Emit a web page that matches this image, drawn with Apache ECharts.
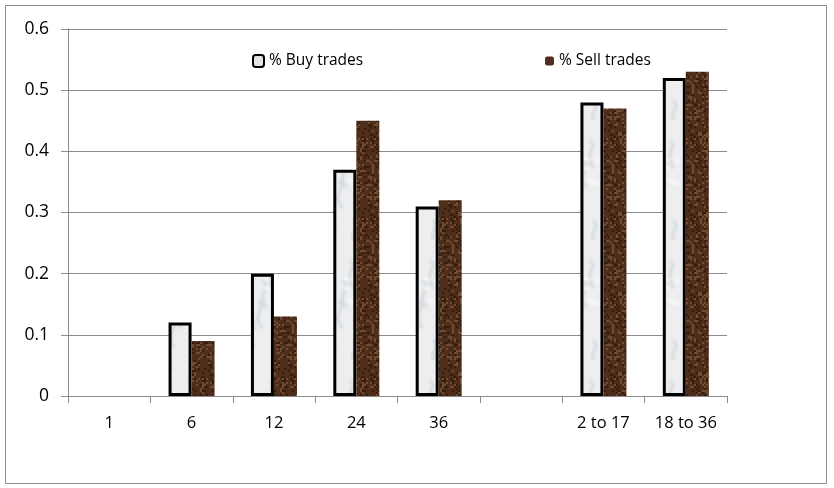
<!DOCTYPE html>
<html lang="en">
<head>
	<meta charset="UTF-8">
	<title>Buy and sell trades</title>
	<script src="https://cdn.jsdelivr.net/npm/echarts@6/dist/echarts.min.js"></script>
	<style>
		html, body { margin: 0; padding: 0; background: #fff; }
	</style>
</head>
<body>
	<div id="main" style="width:834px;height:488px;"></div>
	<script type="text/javascript">
        var categories = ['1', '6', '12', '24', '36', '', '2 to 17', '18 to 36'];
        var buyTrades = [null, 0.12, 0.2, 0.37, 0.31, null, 0.48, 0.52];
        var sellTrades = [null, 0.09, 0.13, 0.45, 0.32, null, 0.47, 0.53];
        var yTicks = [0, 0.1, 0.2, 0.3, 0.4, 0.5, 0.6];

        // small deterministic hash for texture speckle
        function hash(x, y) {
            var h = Math.sin(x * 12.9898 + y * 78.233) * 43758.5453;
            return h - Math.floor(h);
        }

        // marble-like texture for buy bars
        function marble() {
            var c = document.createElement('canvas');
            c.width = 40; c.height = 120;
            var g = c.getContext('2d');
            g.fillStyle = '#eceef0';
            g.fillRect(0, 0, 40, 120);
            g.filter = 'blur(1.5px)';
            g.strokeStyle = 'rgba(160,165,170,0.55)';
            g.lineWidth = 1.5;
            for (var i = 0; i < 6; i++) {
                var x0 = hash(i, 1) * 40, y0 = i * 20;
                g.beginPath();
                g.moveTo(x0, y0);
                g.bezierCurveTo(x0 + 10, y0 + 8, x0 - 8, y0 + 14, x0 + 4, y0 + 28);
                g.stroke();
            }
            g.fillStyle = 'rgba(255,255,255,0.7)';
            for (var j = 0; j < 10; j++) {
                g.fillRect(hash(j, 5) * 36, hash(j, 9) * 116, 5, 4);
            }
            g.filter = 'none';
            return c;
        }

        // brown mottled texture for sell bars
        function bark() {
            var c = document.createElement('canvas');
            c.width = 40; c.height = 80;
            var g = c.getContext('2d');
            g.fillStyle = '#4f2d1b';
            g.fillRect(0, 0, 40, 80);
            for (var y = 0; y < 80; y += 2) {
                for (var x = 0; x < 40; x += 2) {
                    var v = hash(x + 3, y + 7);
                    if (v > 0.82) {
                        g.fillStyle = 'rgba(140,95,60,0.6)';
                        g.fillRect(x, y, 2, 2);
                    } else if (v < 0.18) {
                        g.fillStyle = 'rgba(35,18,8,0.6)';
                        g.fillRect(x, y, 2, 2);
                    }
                }
            }
            return c;
        }

        var myChart = echarts.init(document.getElementById('main'));
        var font = 'Open Sans';

        myChart.setOption({
            animation: false,
            textStyle: { fontFamily: font },
            graphic: [{
                type: 'rect',
                shape: { x: 5.5, y: 5.5, width: 821, height: 478 },
                style: { fill: 'none', stroke: '#8c8c8c', lineWidth: 1 },
                silent: true
            }],
            grid: { left: 68, right: 107, top: 29, bottom: 92 },
            legend: [{
                left: 247, top: 48,
                itemWidth: 11, itemHeight: 12, itemGap: 4,
                textStyle: { fontSize: 15.5, color: '#000', fontFamily: font },
                data: [{ name: '% Buy trades', itemStyle: { color: '#e4e4e4', borderColor: '#000', borderWidth: 2 } }]
            }, {
                left: 540, top: 48,
                itemWidth: 9, itemHeight: 9, itemGap: 5,
                textStyle: { fontSize: 15.5, color: '#000', fontFamily: font },
                data: [{ name: '% Sell trades', itemStyle: { color: '#4e2e1c' } }]
            }],
            xAxis: {
                type: 'category',
                data: categories,
                axisLine: { lineStyle: { color: '#8c8c8c' } },
                axisTick: { show: true, length: 7, interval: 0, lineStyle: { color: '#8c8c8c' } },
                axisLabel: { interval: 0, margin: 19, fontSize: 16.5, color: '#000', fontFamily: font }
            },
            yAxis: {
                type: 'value',
                min: yTicks[0],
                max: yTicks[yTicks.length - 1],
                interval: 0.1,
                axisLine: { show: true, lineStyle: { color: '#8c8c8c' } },
                axisTick: { show: true, length: 7, lineStyle: { color: '#8c8c8c' } },
                splitLine: { lineStyle: { color: '#8c8c8c' } },
                axisLabel: { margin: 19, fontSize: 17.5, color: '#000', fontFamily: font }
            },
            series: [{
                name: '% Buy trades',
                type: 'bar',
                barWidth: 23,
                barGap: '0%',
                data: buyTrades,
                itemStyle: {
                    color: { image: marble(), repeat: 'repeat' },
                    borderColor: '#000',
                    borderWidth: 3
                }
            }, {
                name: '% Sell trades',
                type: 'bar',
                barWidth: 23,
                data: sellTrades,
                itemStyle: {
                    color: { image: bark(), repeat: 'repeat' }
                }
            }]
        });
    </script>
</body>
</html>
